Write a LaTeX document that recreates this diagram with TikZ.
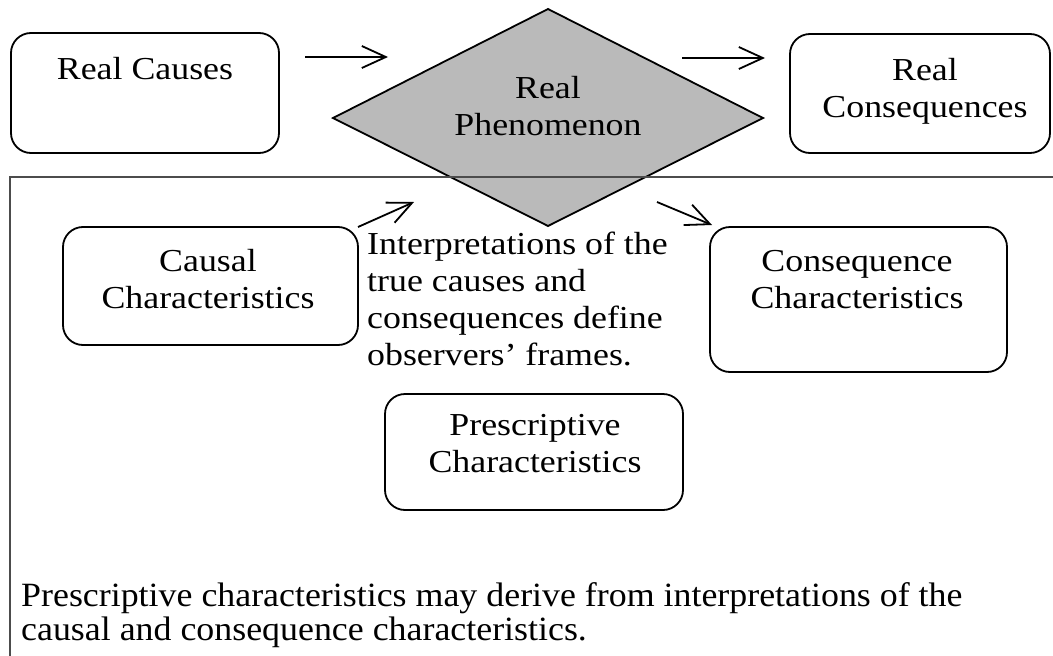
\documentclass[tikz,border=0pt]{standalone}
\usepackage{fontspec}
\setmainfont{Liberation Serif}
\newfontfamily\boxfont[FakeStretch=1.12]{Liberation Serif}
\newfontfamily\botfont[FakeStretch=1.055]{Liberation Serif}
\usetikzlibrary{arrows.meta}
\begin{document}
\begin{tikzpicture}[x=1pt,y=-1pt,
  rbox/.style={draw, line width=1.8pt, rounded corners=20pt, inner sep=0pt},
  lbl/.style={anchor=base, inner sep=0pt, font=\boxfont\fontsize{32}{36.5}\selectfont, align=center},
  arr/.style={line width=1.8pt, -{Straight Barb[length=24pt,width=22pt,line width=1.8pt]}},
  frameline/.style={draw=black!70, line width=1.2pt}]
\useasboundingbox (0,0) rectangle (1053,656);
% frame
\coordinate (ftl) at (10,177);
\coordinate (ftr) at (1053,177);
\coordinate (fbl) at (10,656);
% diamond
\coordinate (dt) at (548,9);
\coordinate (dr) at (763,118);
\coordinate (db) at (548,226);
\coordinate (dl) at (333,118);
\draw[fill=black!27, line width=1.8pt] (dt) -- (dr) -- (db) -- (dl) -- cycle;
\draw[frameline] (ftr) -- (ftl) -- (fbl);
\node[lbl] (rp) at (548,135) {Real\\Phenomenon};
% boxes
\draw[rbox] (11,33) rectangle (279,153);
\node[lbl] (rc) at (145,79) {Real Causes};
\draw[rbox] (790,34) rectangle (1050,153);
\node[lbl] (rq) at (925,117) {Real\\Consequences};
\draw[rbox] (63,227) rectangle (358,345);
\node[lbl] (cc) at (208,308) {Causal\\Characteristics};
\draw[rbox] (710,227) rectangle (1007,372);
\node[lbl] (qc) at (857,308) {Consequence\\Characteristics};
\draw[rbox] (385,394) rectangle (683,510);
\node[lbl] (pc) at (535,472) {Prescriptive\\Characteristics};
% interpretation text
\node[anchor=base west, inner sep=0pt, font=\boxfont\fontsize{32}{36.7}\selectfont, align=left] (it) at (367,365)
  {Interpretations of the\\true causes and\\consequences define\\observers’ frames.};
% bottom text
\node[anchor=base west, inner sep=0pt, font=\botfont\fontsize{34}{33.5}\selectfont, align=left] (bt) at (21,640)
  {Prescriptive characteristics may derive from interpretations of the\\causal and consequence characteristics.};
% arrows
\coordinate (a1s) at (305,57);
\coordinate (a1e) at (388,57);
\coordinate (a2s) at (682,58);
\coordinate (a2e) at (765,58);
\coordinate (a3s) at (358,227);
\coordinate (a3e) at (414,202);
\coordinate (a4s) at (657,202);
\coordinate (a4e) at (712,225);
\draw[arr] (a1s) -- (a1e);
\draw[arr] (a2s) -- (a2e);
\draw[arr] (a3s) -- (a3e);
\draw[arr] (a4s) -- (a4e);
\end{tikzpicture}
\end{document}
